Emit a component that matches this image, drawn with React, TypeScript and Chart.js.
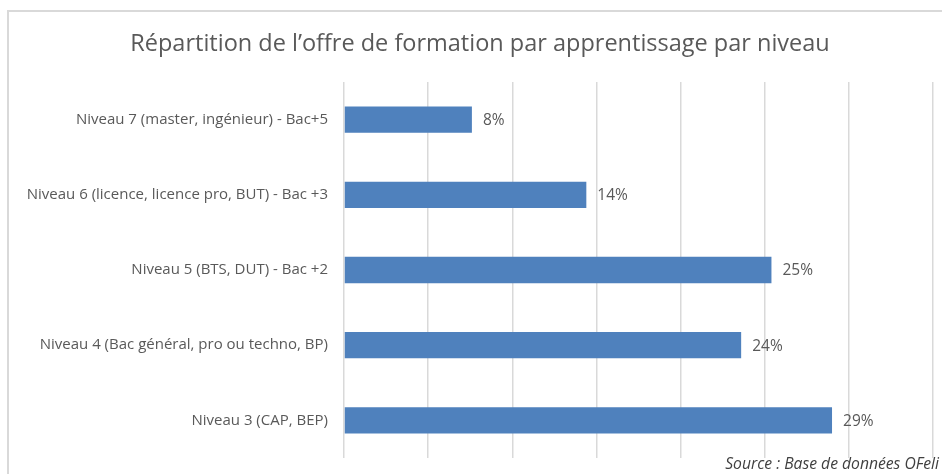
import React, { useEffect, useRef } from "react";
import { Chart, registerables } from "chart.js";

Chart.register(...registerables);

const categories = [
  "Niveau 7 (master, ingénieur) - Bac+5",
  "Niveau 6 (licence, licence pro, BUT) - Bac +3",
  "Niveau 5 (BTS, DUT) - Bac +2",
  "Niveau 4 (Bac général, pro ou techno, BP)",
  "Niveau 3 (CAP, BEP)",
];
const shares = [7.6, 14.4, 25.4, 23.6, 29.0];
const titleText = "Répartition de l’offre de formation par apprentissage par niveau";
const sourceText = "Source : Base de données OFeli";

const FONT = "'Open Sans', Lato, sans-serif";

export default function App() {
  const ref = useRef<HTMLCanvasElement | null>(null);

  useEffect(() => {
    const canvas = ref.current;
    if (!canvas) return;

    const framePlugin = {
      id: "frame",
      beforeDraw(chart: any) {
        const ctx = chart.ctx;
        ctx.save();
        ctx.fillStyle = "#ffffff";
        ctx.fillRect(0, 0, chart.width, chart.height);
        ctx.strokeStyle = "#d9d9d9";
        ctx.lineWidth = 2;
        ctx.strokeRect(8, 11, 980, 520);
        ctx.restore();
      },
    };

    const textPlugin = {
      id: "texts",
      afterDraw(chart: any) {
        const ctx = chart.ctx;
        ctx.save();
        ctx.fillStyle = "#595959";
        ctx.font = `23.5px ${FONT}`;
        ctx.textAlign = "center";
        ctx.textBaseline = "middle";
        ctx.fillText(titleText, 480, 44);
        ctx.fillStyle = "#404040";
        ctx.font = `italic 15.7px ${FONT}`;
        ctx.textAlign = "right";
        ctx.textBaseline = "alphabetic";
        ctx.fillText(sourceText, 939, 469);
        ctx.restore();
      },
    };

    const labelPlugin = {
      id: "valueLabels",
      afterDatasetsDraw(chart: any) {
        const ctx = chart.ctx;
        const meta = chart.getDatasetMeta(0);
        ctx.save();
        ctx.fillStyle = "#595959";
        ctx.font = `15.5px ${FONT}`;
        ctx.textAlign = "left";
        ctx.textBaseline = "middle";
        meta.data.forEach((el: any, i: number) => {
          const v = chart.data.datasets[0].data[i] as number;
          ctx.fillText(`${Math.round(v)}%`, el.x + 11, el.y + 1);
        });
        ctx.restore();
      },
    };

    const chart = new Chart(canvas, {
      type: "bar",
      data: {
        labels: categories,
        datasets: [
          {
            data: shares,
            backgroundColor: "#4f81bd",
            borderWidth: 0,
            categoryPercentage: 1,
            barPercentage: 0.35,
          },
        ],
      },
      options: {
        indexAxis: "y",
        animation: false,
        responsive: false,
        maintainAspectRatio: false,
        layout: { padding: { top: 82, bottom: 16, left: 0, right: 9 } },
        plugins: {
          legend: { display: false },
          title: { display: false },
          tooltip: { enabled: false },
        },
        scales: {
          x: {
            min: 0,
            max: 35,
            ticks: { stepSize: 5, display: false },
            grid: { color: "#d9d9d9", lineWidth: 1.5, drawTicks: false },
            border: { display: false },
            afterFit(scale: any) {
              scale.height = 0;
              scale.paddingLeft = 0;
              scale.paddingRight = 0;
            },
          },
          y: {
            ticks: {
              color: "#595959",
              font: { family: FONT, size: 15 },
              padding: 16,
            },
            grid: { display: false, drawTicks: false },
            border: { display: false },
            afterFit(scale: any) {
              scale.width = 344;
              scale.paddingTop = 0;
              scale.paddingBottom = 0;
            },
          },
        },
      },
      plugins: [framePlugin, textPlugin, labelPlugin],
    });

    return () => chart.destroy();
  }, []);

  return (
    <div style={{ position: "fixed", left: 0, top: 0, width: 942, height: 474 }}>
      <canvas ref={ref} width={942} height={474} style={{ width: 942, height: 474 }} />
    </div>
  );
}
